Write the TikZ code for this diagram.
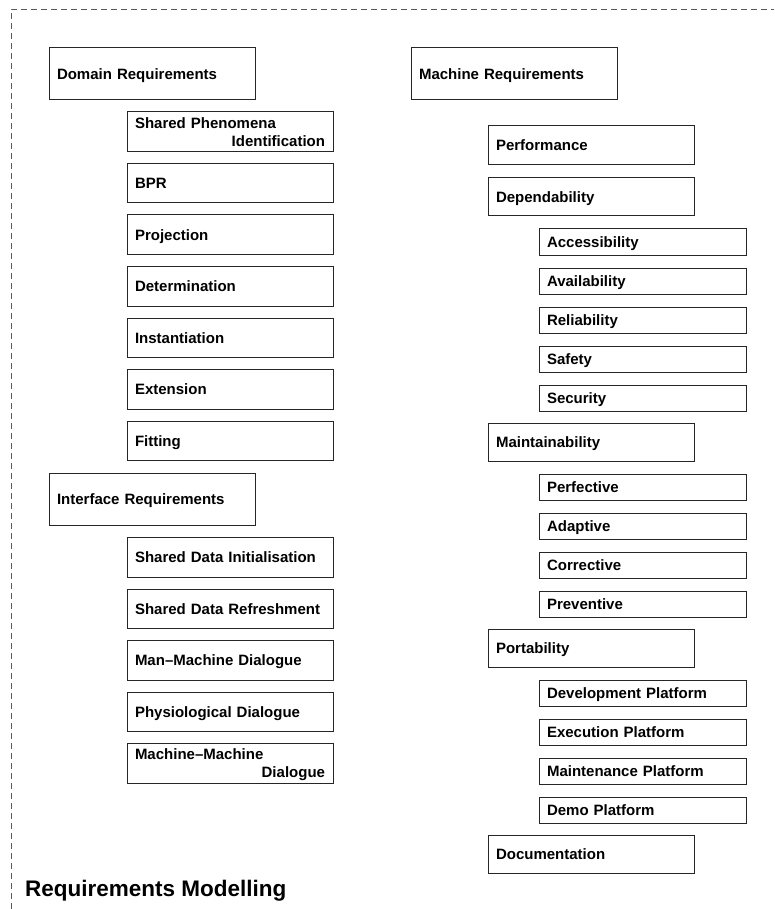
\documentclass[tikz,border=0pt]{standalone}
\usepackage{fontspec}
\setmainfont{Liberation Sans}
\usetikzlibrary{positioning}

\begin{document}
\begin{tikzpicture}[
    x=1pt, y=1pt,
    box/.style={rectangle, draw=black!85, line width=1pt, outer sep=0pt, inner xsep=8pt, inner ysep=0pt, text width=190pt, text height=10.7pt, text depth=0pt, align=left, font=\bfseries\fontsize{15}{18}\selectfont},
    group/.style={box, minimum height=52pt},
    item/.style={box, minimum height=39.5pt},
    facet/.style={box, minimum height=38.5pt},
    detail/.style={box, text width=191pt, minimum height=26pt},
    twoline/.style={text depth=18pt},
    frame/.style={black!65, line width=0.9pt, dash pattern=on 6pt off 4pt},
    title/.style={font=\bfseries\fontsize{22.5}{27}\selectfont, inner sep=0pt},
]
\useasboundingbox (0,0) rectangle (774,-909);

% Frame
\draw[frame] (11,-909) -- (11,-9) -- (774,-9);

% Domain requirements
\node[group, anchor=north west] (domreq) at (49,-48) {Domain Requirements};
\node[item, twoline, below right=12pt and 78pt of domreq.south west] (shpheno) {Shared Phenomena\\\hbox to 190pt{\hfil Identification}};
\node[item, below=12pt of shpheno] (bpr) {BPR};
\node[item, below=12pt of bpr] (project) {Projection};
\node[item, below=12pt of project] (determ) {Determination};
\node[item, below=12pt of determ] (instant) {Instantiation};
\node[item, below=12pt of instant] (extend) {Extension};
\node[item, below=12pt of extend] (fitting) {Fitting};

% Interface requirements
\node[group, below=12.5pt of fitting.south west, anchor=north west, xshift=-78pt] (ifacereq) {Interface Requirements};
\node[item, below right=12.5pt and 78pt of ifacereq.south west] (sdinit) {Shared Data Initialisation};
\node[item, below=12pt of sdinit] (sdrefresh) {Shared Data Refreshment};
\node[item, below=12pt of sdrefresh] (manmach) {Man--Machine Dialogue};
\node[item, below=12pt of manmach] (physio) {Physiological Dialogue};
\node[item, twoline, below=12pt of physio] (machmach) {Machine--Machine\\\hbox to 190pt{\hfil Dialogue}};

% Machine requirements
\node[group, anchor=north west] (machreq) at (411,-48) {Machine Requirements};
\node[facet, below right=26pt and 77pt of machreq.south west] (perform) {Performance};
\node[facet, below=13pt of perform] (depend) {Dependability};
\node[detail, below right=13pt and 51pt of depend.south west] (access) {Accessibility};
\node[detail, below=13pt of access] (avail) {Availability};
\node[detail, below=13pt of avail] (reliab) {Reliability};
\node[detail, below=13pt of reliab] (safety) {Safety};
\node[detail, below=13pt of safety] (secur) {Security};
\node[facet, below=12pt of secur.south west, anchor=north west, xshift=-51pt] (maintain) {Maintainability};
\node[detail, below right=12.5pt and 51pt of maintain.south west] (perfect) {Perfective};
\node[detail, below=13pt of perfect] (adapt) {Adaptive};
\node[detail, below=13pt of adapt] (correct) {Corrective};
\node[detail, below=13pt of correct] (prevent) {Preventive};
\node[facet, below=12pt of prevent.south west, anchor=north west, xshift=-51pt] (portab) {Portability};
\node[detail, below right=12.5pt and 51pt of portab.south west] (devplat) {Development Platform};
\node[detail, below=13pt of devplat] (execplat) {Execution Platform};
\node[detail, below=13pt of execplat] (mainplat) {Maintenance Platform};
\node[detail, below=13pt of mainplat] (demoplat) {Demo Platform};
\node[facet, below=12pt of demoplat.south west, anchor=north west, xshift=-51pt] (document) {Documentation};

% Title
\node[title, anchor=base west] (reqmod) at (25,-896) {Requirements Modelling};

\end{tikzpicture}
\end{document}
